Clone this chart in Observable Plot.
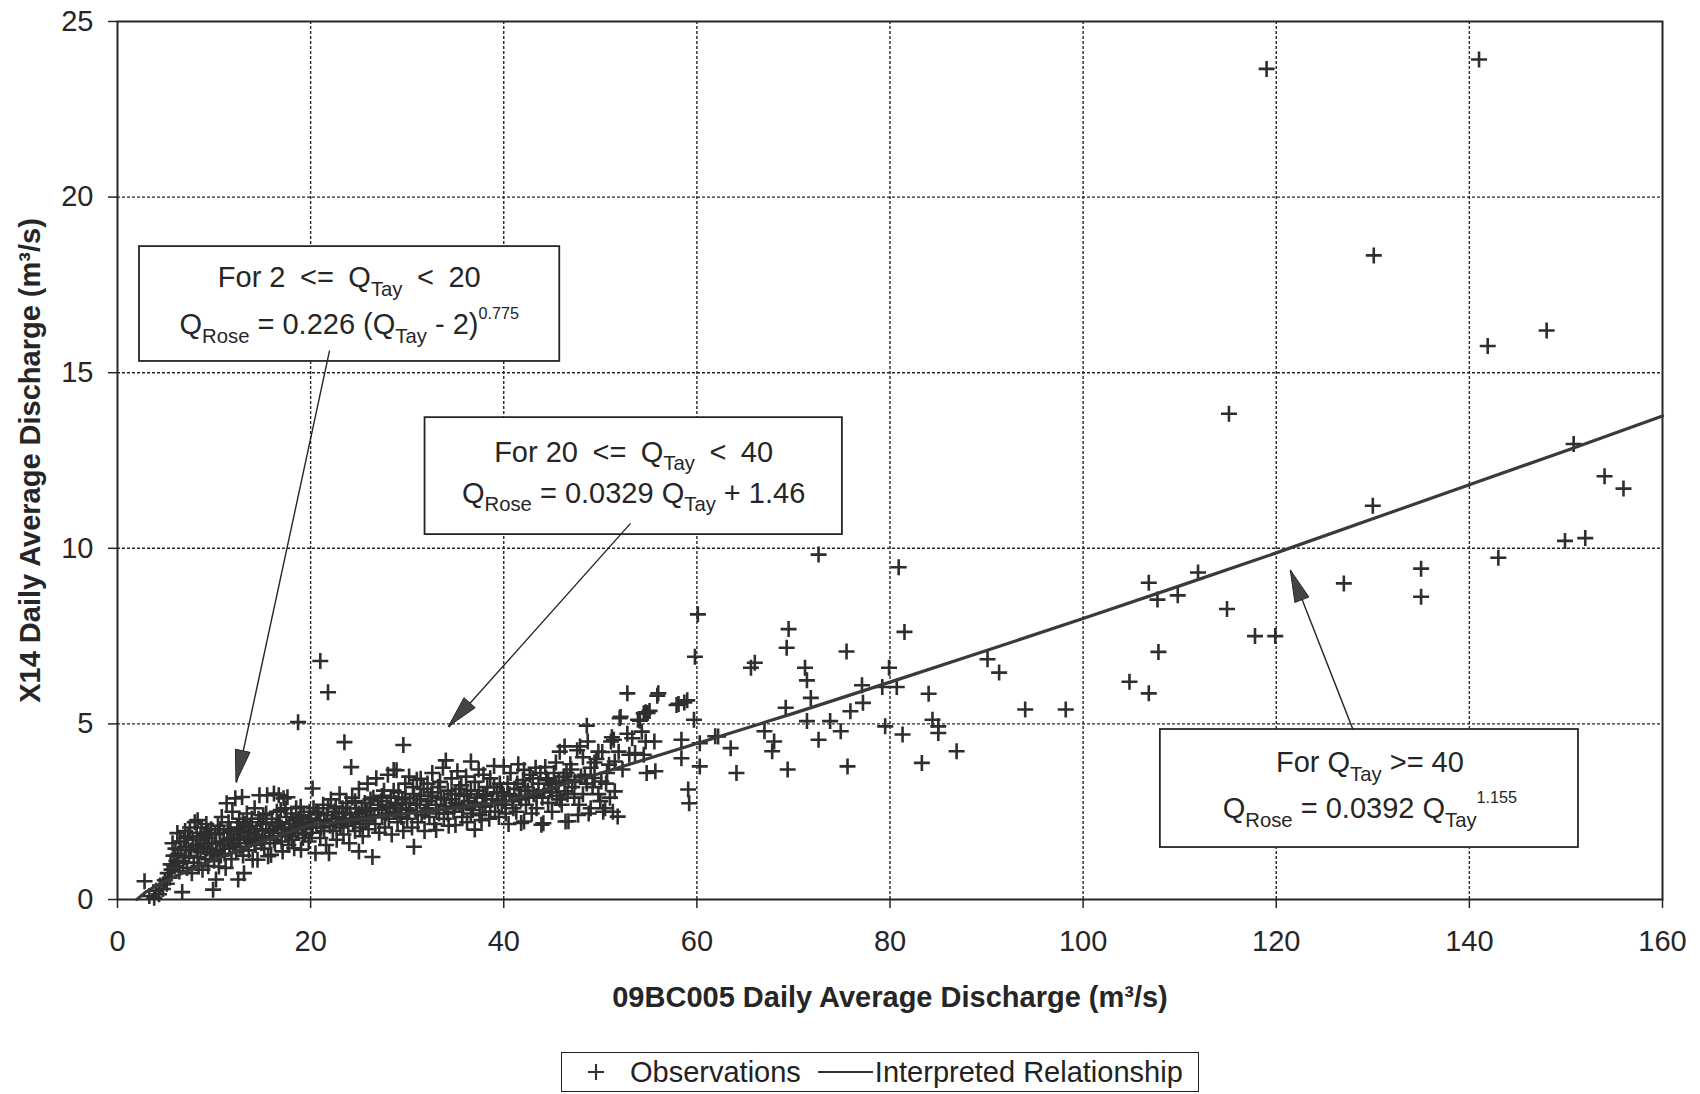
<!DOCTYPE html>
<html>
<head>
<meta charset="utf-8">
<script src="https://cdn.jsdelivr.net/npm/d3@7"></script>
<script src="https://cdn.jsdelivr.net/npm/@observablehq/plot@0.6"></script>
<style>
  html, body { margin: 0; padding: 0; background: #fff; overflow: hidden; }
  #wrap { position: relative; width: 1700px; height: 1094px; font-family: Arial, "Liberation Sans", sans-serif; color: #222; }
  #chart { position: absolute; left: 0; top: 0; }
  #legend { position: absolute; left: 561px; top: 1052px; width: 636px; height: 38px; border: 1.5px solid #222;
            display: flex; align-items: center; font-size: 29px; white-space: nowrap; box-sizing: content-box; }
</style>
</head>
<body>
<div id="wrap"><div id="chart"></div><div id="legend"></div></div>
<script>
// ---------- axes / labels ----------
const xTicks = [0, 20, 40, 60, 80, 100, 120, 140, 160];
const yTicks = [0, 5, 10, 15, 20, 25];
const xTitle = "09BC005 Daily Average Discharge (m³/s)";
const yTitle = "X14 Daily Average Discharge (m³/s)";
const seriesNames = ["Observations", "Interpreted Relationship"];

// ---------- interpreted relationship ----------
const lineX = [2, 3, 4, 6, 8, 10, 12, 14, 16, 18, 20, 30, 40, 45, 50, 60, 70, 80, 90, 100, 110, 120, 130, 140, 150, 160];
const lineY = [0, 0.226, 0.387, 0.662, 0.906, 1.133, 1.346, 1.55, 1.747, 1.939, 2.122, 2.447, 2.776, 3.18, 3.594, 4.44, 5.30, 6.19, 7.09, 8.00, 8.93, 9.87, 10.84, 11.81, 12.78, 13.77];

// ---------- observations [09BC005, X14] ----------
const obsLow = [
  [2.8,0.52],[3.3,0.1],[3.8,0.05],[4.0,0.25],[4.3,0.15],[4.4,0.4],[4.7,0.3],[4.9,0.55],[5.1,0.45],[5.2,0.75],
  [5.4,0.62],[5.5,1.0],[5.6,0.85],[5.7,1.6],[5.8,1.25],[5.9,0.95],[6.0,1.45],[6.1,1.1],[6.2,1.89],[6.3,1.3],
  [6.4,0.8],[6.5,1.65],[6.6,1.42],[6.7,0.21],[6.8,1.05],[6.9,1.75],[7.0,1.95],[7.0,1.2],[7.1,1.5],[7.2,0.9],
  [7.3,1.8],[7.4,1.23],[7.5,2.05],[7.6,1.4],[7.7,0.75],[7.8,1.7],[7.9,1.05],[8.0,2.2],[8.1,1.55],[8.2,1.9],
  [8.3,2.26],[8.3,1.2],[8.4,0.95],[8.5,1.7],[8.6,1.35],[8.7,2.05],[8.8,0.85],[8.9,1.6],[9.0,1.85],[9.1,1.15],
  [9.2,2.15],[9.3,1.45],[9.4,0.95],[9.5,1.75],[9.6,1.3],[9.7,2.0],[9.8,1.6],[9.9,0.28],[10.0,1.1],[10.1,1.85],
  [10.2,0.57],[10.3,1.4],[10.4,2.1],[10.5,0.94],[10.6,1.65],[10.7,1.25],
  [10.8,2.35],[10.9,1.55],[11.0,1.9],[11.1,1.3],[11.2,0.9],[11.3,2.74],[11.4,1.7],[11.5,2.2],[11.6,1.45],[11.7,1.95],
  [11.8,1.15],[11.9,2.5],[12.0,1.6],[12.1,1.85],[12.2,2.88],[12.3,1.35],[12.4,2.05],[12.5,0.57],[12.5,1.7],[12.6,2.3],
  [12.7,1.5],[12.8,1.95],[12.9,2.92],[13.0,1.25],[13.1,0.75],[13.1,1.8],[13.2,2.15],[13.3,1.6],[13.4,2.45],[13.5,1.9],
  [13.6,1.4],[13.7,2.05],[13.8,1.7],[13.9,2.3],[14.0,1.13],[14.1,1.85],[14.2,2.6],[14.3,1.55],[14.4,2.0],[14.5,1.13],
  [14.6,1.75],[14.7,2.97],[14.8,2.2],[14.9,1.6],[15.0,1.95],[15.1,2.4],[15.2,1.45],[15.3,1.8],[15.4,2.15],[15.5,2.97],
  [15.6,1.23],[15.7,2.0],[15.8,1.7],[15.9,1.27],[16.0,2.3],[16.1,1.9],[16.2,3.02],[16.3,1.6],[16.4,2.1],[16.5,2.5],
  [16.6,1.8],[16.7,2.97],[16.8,2.2],[16.9,2.55],[17.0,1.65],[17.1,1.37],[17.2,2.88],[17.3,2.0],[17.4,1.85],[17.5,2.35],
  [17.6,2.91],[17.7,1.55],[17.8,2.15],[17.9,1.95],[18.0,2.45],[18.1,1.7],[18.2,2.25],[18.3,1.46],[18.4,2.05],[18.5,2.6],
  [18.7,5.05],[18.7,1.9],[18.8,2.3],[18.97,2.64],[19.0,1.42],[19.1,2.1],[19.2,1.75],[19.3,2.4],[19.5,2.0],[19.6,2.2],
  [19.8,1.65],[19.9,2.5]
];
const obsMid = [
  [20.2,3.16],[21.0,6.79],[21.8,5.90],[23.5,4.48],[24.2,3.77],[25.0,1.37],[26.4,1.21],[30.7,1.5],
  [20.0,2.3],[20.1,1.9],[20.3,2.6],[20.5,1.32],[20.6,2.15],[20.8,2.45],[21.0,1.75],[21.1,2.05],[21.3,2.7],[21.4,2.25],
  [21.6,1.55],[21.7,2.4],[21.9,1.32],[22.0,2.1],[22.1,2.85],[22.3,1.95],[22.4,2.5],[22.6,2.2],[22.7,1.7],[22.9,2.35],
  [23.0,3.0],[23.1,2.05],[23.3,2.6],[23.4,1.85],[23.6,2.3],[23.7,2.75],[23.9,2.1],[24.0,1.6],[24.1,2.45],[24.3,2.9],
  [24.4,2.2],[24.6,1.95],[24.7,2.6],[24.9,2.35],[25.0,3.15],[25.1,2.05],[25.3,2.5],[25.4,1.8],[25.6,2.75],[25.7,2.25],
  [25.9,3.3],[26.0,2.0],[26.1,2.6],[26.3,2.4],[26.5,2.9],[26.7,2.15],[26.8,3.45],[27.0,2.55],[27.1,1.9],[27.3,2.8],
  [27.4,2.35],[27.6,3.1],[27.7,2.05],[27.9,2.65],[28.0,3.55],[28.1,2.3],[28.3,2.9],[28.4,1.85],[28.6,3.69],[28.6,2.5],
  [28.8,2.75],[28.9,3.68],[29.0,2.2],[29.1,3.05],[29.3,2.45],[29.6,4.4],[29.5,2.85],[29.6,1.95],[29.8,3.3],[29.9,2.6],
  [30.0,2.3],[30.2,3.5],[30.3,2.75],[30.5,2.05],[30.7,3.0],[30.9,2.5],[31.0,3.41],[31.1,2.2],[31.3,2.85],[31.4,3.44],
  [31.5,2.4],[31.7,3.15],[31.8,1.95],[32.0,2.6],[32.1,3.3],[32.3,2.35],[32.5,2.95],[32.6,3.6],[32.8,2.15],[33.0,1.98],
  [33.0,2.7],[33.2,3.2],[33.3,2.45],[33.5,2.9],[33.7,3.75],[33.8,2.3],[34.0,3.96],[34.0,2.65],[34.2,3.1],[34.3,2.1],
  [34.5,2.85],[34.6,3.45],[34.8,2.5],[35.0,2.12],[35.0,3.0],[35.2,3.65],[35.4,2.7],[35.6,3.25],[35.7,2.35],[35.9,2.95],
  [36.1,3.5],[36.2,2.2],[36.4,2.8],[36.6,3.93],[36.6,3.1],[36.8,2.55],[37.0,1.99],[37.0,3.35],[37.2,2.9],[37.4,3.7],
  [37.5,2.4],[37.7,2.26],[37.9,3.55],[37.9,3.0],[38.1,2.65],[38.3,3.2],[38.5,2.3],[38.6,3.45],[38.8,2.85],[39.0,3.8],
  [39.1,2.5],[39.3,3.05],[39.5,2.35],[39.6,3.3],[39.8,2.7],[40.0,3.79],[40.0,2.95],
  [40.2,2.45],[40.4,3.3],[40.5,2.15],[40.7,3.6],[40.9,2.8],[41.1,3.15],[41.3,2.5],[41.5,3.85],[41.6,2.95],[41.8,2.18],
  [42.0,3.4],[42.1,3.69],[42.1,2.22],[42.3,2.7],[42.5,3.1],[42.7,3.55],[42.9,2.45],[43.1,3.0],[43.3,3.75],[43.4,2.6],
  [43.6,3.3],[43.9,2.13],[44.0,2.9],[44.1,2.17],[44.3,3.77],[44.4,3.45],[44.6,2.75],[44.8,3.15],[45.0,2.5],[45.2,3.6],
  [45.4,3.9],[45.5,2.95],[45.7,3.35],[45.8,4.21],[46.0,2.7],[46.3,4.36],[46.3,3.08],[46.4,2.22],[46.5,3.6],[46.7,3.41],
  [46.7,2.23],[46.9,3.85],[47.1,3.2],[47.3,2.9],[47.6,4.25],[47.7,2.41],[47.9,4.36],[48.0,3.5],[48.2,3.0],[48.4,3.55],
  [48.6,4.95],[48.7,4.5],[48.8,2.45],[49.0,3.75],[49.2,3.2],[49.4,3.46],[49.6,4.0],[49.8,4.21],[50.0,2.8],[50.1,3.36],
  [50.3,2.5],[50.5,2.6],[50.7,3.6],[50.9,3.84],[51.1,4.5],[51.2,4.62],[51.3,2.5],[51.4,4.55],[51.5,3.08],[51.5,3.93],
  [51.8,2.36],[51.9,4.21],[52.0,5.16],[52.1,5.2],[52.3,3.7],[52.8,5.87],[52.8,4.72],[53.0,4.12],[53.3,4.59],[53.6,4.17],
  [53.9,5.12],[54.1,5.09],[54.3,4.78],[54.5,5.30],[54.5,4.12],[54.7,4.5],[54.7,5.33],[54.8,3.60],[54.9,5.31],[55.1,5.37],
  [55.6,4.50],[55.7,3.65],[55.9,5.80],[56.0,5.87],[57.9,5.54],[58.1,5.57],[58.4,4.55],[58.4,4.02],[58.7,5.61],[59.0,5.67],
  [59.1,3.13],[59.2,2.74],[59.7,5.12],[59.8,6.91],[60.1,8.12],[60.3,4.45],[60.3,3.79]
];
const obsCore = [
  [8.2,1.45],[8.6,1.8],[9.0,1.5],[9.4,1.9],[9.8,1.35],[10.2,1.6],[10.6,2.0],[11.0,1.55],[11.4,2.0],[11.8,1.75],
  [12.2,1.5],[12.6,1.95],[13.0,2.2],[13.4,1.75],[13.8,2.1],[14.2,1.65],[14.6,2.3],[15.0,1.75],[15.4,2.45],[15.8,1.95],
  [16.2,1.7],[16.6,2.2],[17.0,2.05],[17.4,2.6],[17.8,1.8],[18.2,2.0],[18.6,2.15],[19.0,2.35],[19.4,1.85],[19.8,2.3],
  [20.2,2.05],[20.6,2.5],[21.0,2.25],[21.4,1.95],[21.8,2.6],[22.2,2.3],[22.6,2.65],[23.0,2.15],[23.4,2.45],[23.8,2.6],
  [24.2,2.3],[24.6,2.8],[25.0,2.45],[25.4,2.15],[25.8,2.55],[26.2,2.85],[26.6,2.35],[27.0,2.7],[27.4,2.95],[27.8,2.45],
  [28.2,2.6],[28.6,3.1],[29.0,2.7],[29.4,2.35],[29.8,2.9],[30.2,2.55],[30.6,3.2],[31.0,2.7],[31.4,2.95],[31.8,2.5],
  [32.2,2.8],[32.6,3.05],[33.0,2.55],[33.4,3.35],[33.8,2.85],[34.2,2.45],[34.6,3.0],[35.0,2.75],[35.4,3.15],[35.8,2.6],
  [36.2,3.0],[36.6,2.45],[37.0,2.75],[37.4,3.1],[37.8,2.65],[38.2,2.95],[38.6,2.5],[39.0,3.2],[39.4,2.8],[39.8,3.05],
  [40.2,2.7],[40.6,3.0],[41.0,2.6],[41.4,3.3],[41.8,2.85],[42.2,3.2],[42.6,2.9],[43.0,3.45],[43.4,2.95],[43.8,3.6],
  [44.2,3.1],[44.6,3.4],[45.0,3.05],[45.4,3.3],[45.8,2.85],[46.2,3.5],[46.6,3.0],[47.0,3.7],[47.4,3.35],[47.8,2.7],
  [48.2,4.05],[48.6,3.3],[49.0,2.6],[49.4,3.9],[49.8,3.0],[50.2,4.2],[50.6,3.3],[51.0,2.9]
];
const obsHigh = [
  [61.9,4.65],[62.2,4.64],[63.5,4.31],[64.1,3.60],[65.6,6.60],[66.0,6.74],[67.0,4.79],[67.8,4.22],[68.0,4.50],[69.2,5.46],
  [69.3,7.17],[69.4,3.70],[69.5,7.70],[71.2,6.60],[71.4,6.24],[71.4,5.08],[71.8,5.74],[72.6,9.82],[72.6,4.55],[73.8,5.08],
  [74.9,4.79],[75.5,7.06],[75.6,3.79],[75.9,5.36],[77.1,6.10],[77.2,5.60],[79.2,6.05],[79.5,4.93],[79.9,6.60],[80.7,6.05],
  [80.9,9.46],[81.3,4.70],[81.5,7.62],[83.3,3.89],[84.0,5.86],[84.4,5.12],[85.0,4.93],[85.0,4.74],[86.9,4.22],[90.1,6.84],
  [91.3,6.46],[94.0,5.41],[98.2,5.41],[104.8,6.20],[106.8,5.87],[106.8,9.02],[107.7,8.54],[107.8,7.05],[109.8,8.66],[111.9,9.31],
  [114.9,8.27],[115.1,13.83],[117.8,7.50],[119.0,23.65],[119.9,7.50],[127.0,9.0],[130.0,11.21],[130.1,18.34],[135.0,9.42],[135.0,8.62],
  [141.0,23.92],[141.9,15.76],[143.0,9.73],[148.0,16.20],[149.9,10.21],[150.8,12.97],[152.0,10.29],[154.0,12.05],[155.96,11.70]
];

// ---------- annotations ----------
const noteText = [
  "For 2\u2002<=\u2002Q_{Tay}\u2002<\u200220", "Q_{Rose} = 0.226 (Q_{Tay} - 2)^{0.775}",
  "For 20\u2002<=\u2002Q_{Tay}\u2002<\u200240", "Q_{Rose} = 0.0329 Q_{Tay} + 1.46",
  "For Q_{Tay} >= 40", "Q_{Rose} = 0.0392 Q_{Tay}^{1.155}"
];
const noteX = [24.0, 24.0, 53.45, 53.45, 129.7, 129.7];
const noteY = [17.71, 16.37, 12.73, 11.56, 3.90, 2.59];
const boxX1 = [2.28, 31.85, 108.0];
const boxX2 = [45.8, 75.07, 151.3];
const boxY1 = [15.32, 10.39, 1.48];
const boxY2 = [18.59, 13.72, 4.84];
const arrowFromX = [21.96, 53.13, 127.96];
const arrowFromY = [15.63, 10.71, 4.83];
const arrowToX = [12.32, 34.31, 121.5];
const arrowToY = [3.33, 4.91, 9.37];

// ---------- build tables ----------
const obs = [...obsLow, ...obsCore, ...obsMid, ...obsHigh].map(([x, y]) => ({x, y}));
const rel = lineX.map((x, i) => ({x, y: lineY[i]}));
const notes = noteText.map((t, i) => ({t, x: noteX[i], y: noteY[i]}));
const boxes = boxX1.map((_, i) => ({x1: boxX1[i], x2: boxX2[i], y1: boxY1[i], y2: boxY2[i]}));
const arrows = arrowFromX.map((_, i) => ({x1: arrowFromX[i], y1: arrowFromY[i], x2: arrowToX[i], y2: arrowToY[i]}));

const ink = "#262626";
const plusSymbol = {
  draw(ctx, size) {
    const r = Math.sqrt(size / Math.PI);
    ctx.moveTo(-r, 0); ctx.lineTo(r, 0);
    ctx.moveTo(0, -r); ctx.lineTo(0, r);
  }
};

// arrow heads: filled narrow triangles, positioned through the plot scales
function arrowHeads(index, scales, values, dimensions, context) {
  const g = d3.create("svg:g");
  for (const a of arrows) {
    const ax = scales.x(a.x1), ay = scales.y(a.y1), bx = scales.x(a.x2), by = scales.y(a.y2);
    const dx = bx - ax, dy = by - ay, L = Math.hypot(dx, dy), ux = dx / L, uy = dy / L;
    const hl = 32, hw = 7.5;
    const cx = bx - ux * hl, cy = by - uy * hl;
    g.append("path")
      .attr("d", `M${bx},${by}L${cx - uy * hw},${cy + ux * hw}L${cx + uy * hw},${cy - ux * hw}Z`)
      .attr("fill", "#444").attr("stroke", ink).attr("stroke-width", 1);
  }
  return g.node();
}

const chart = Plot.plot({
  width: 1700,
  height: 1045,
  marginLeft: 117,
  marginRight: 38,
  marginTop: 21,
  marginBottom: 146,
  style: {fontFamily: 'Arial, "Liberation Sans", sans-serif', fontSize: "29px", color: ink, background: "#fff", overflow: "visible"},
  x: {domain: [0, 160], ticks: xTicks, label: null},
  y: {domain: [0, 25], ticks: yTicks, label: null},
  marks: [
    Plot.gridX(xTicks.slice(1, -1), {stroke: ink, strokeOpacity: 1, strokeWidth: 1.4, strokeDasharray: "3,2"}),
    Plot.gridY(yTicks.slice(1, -1), {stroke: ink, strokeOpacity: 1, strokeWidth: 1.4, strokeDasharray: "3,2"}),
    Plot.frame({stroke: ink, strokeWidth: 2}),
    Plot.axisX(xTicks, {tickSize: 9, tickPadding: 22, fontSize: 29, label: null, stroke: ink, strokeWidth: 1.5}),
    Plot.axisY(yTicks, {tickSize: 9, tickPadding: 15, fontSize: 29, label: null, stroke: ink, strokeWidth: 1.5}),
    Plot.dot(obs, {x: "x", y: "y", symbol: plusSymbol, r: 8, stroke: "#2e2e2e", strokeWidth: 2.6, fill: "none"}),
    Plot.line(rel, {x: "x", y: "y", stroke: "#3a3a3a", strokeWidth: 3.2, curve: "linear"}),
    Plot.rect(boxes, {x1: "x1", x2: "x2", y1: "y1", y2: "y2", fill: "#fff", stroke: ink, strokeWidth: 1.8}),
    Plot.link(arrows, {x1: "x1", y1: "y1", x2: "x2", y2: "y2", stroke: ink, strokeWidth: 1.4}),
    arrowHeads,
    Plot.text(notes, {x: "x", y: "y", text: "t", fontSize: 29, fill: ink, textAnchor: "middle", lineAnchor: "middle"}),
    Plot.text([xTitle], {text: d => d, frameAnchor: "bottom", dy: 98, fontSize: 29, fontWeight: "bold", fill: ink,
                         textAnchor: "middle", lineAnchor: "middle"}),
    Plot.text([yTitle], {text: d => d, frameAnchor: "left", dx: -87, rotate: -90, fontSize: 29, fontWeight: "bold", fill: ink,
                         textAnchor: "middle", lineAnchor: "middle"})
  ]
});

// sub/superscript markup: _{...} and ^{...}
function richify(el, base) {
  const s = el.textContent;
  if (!/[_^]\{/.test(s)) return;
  el.textContent = "";
  const re = /([_^])\{([^}]*)\}/g;
  let last = 0, shift = 0, m;
  const add = (str, kind) => {
    const t = document.createElementNS("http://www.w3.org/2000/svg", "tspan");
    t.textContent = str;
    const target = kind === "sub" ? base * 0.3 : kind === "sup" ? -base * 0.5 : 0;
    const dy = target - shift; shift = target;
    if (dy) t.setAttribute("dy", dy.toFixed(2));
    if (kind) t.setAttribute("font-size", (base * (kind === "sup" ? 0.56 : 0.7)).toFixed(1));
    el.appendChild(t);
  };
  while ((m = re.exec(s))) {
    if (m.index > last) add(s.slice(last, m.index), null);
    add(m[2], m[1] === "_" ? "sub" : "sup");
    last = re.lastIndex;
  }
  if (last < s.length) add(s.slice(last), null);
}
chart.querySelectorAll("text").forEach(t => richify(t, 29));
document.getElementById("chart").appendChild(chart);

// legend
const legend = document.getElementById("legend");
legend.innerHTML =
  `<svg width="18" height="18" style="margin-left:25px;flex:none"><path d="M1,9H17M9,1V17" stroke="#333" stroke-width="2.1"/></svg>` +
  `<span style="margin-left:25px">${seriesNames[0]}</span>` +
  `<svg width="55" height="6" style="margin-left:17px;flex:none"><line x1="0" y1="3" x2="55" y2="3" stroke="#333" stroke-width="2"/></svg>` +
  `<span style="margin-left:2px">${seriesNames[1]}</span>`;
</script>
</body>
</html>
